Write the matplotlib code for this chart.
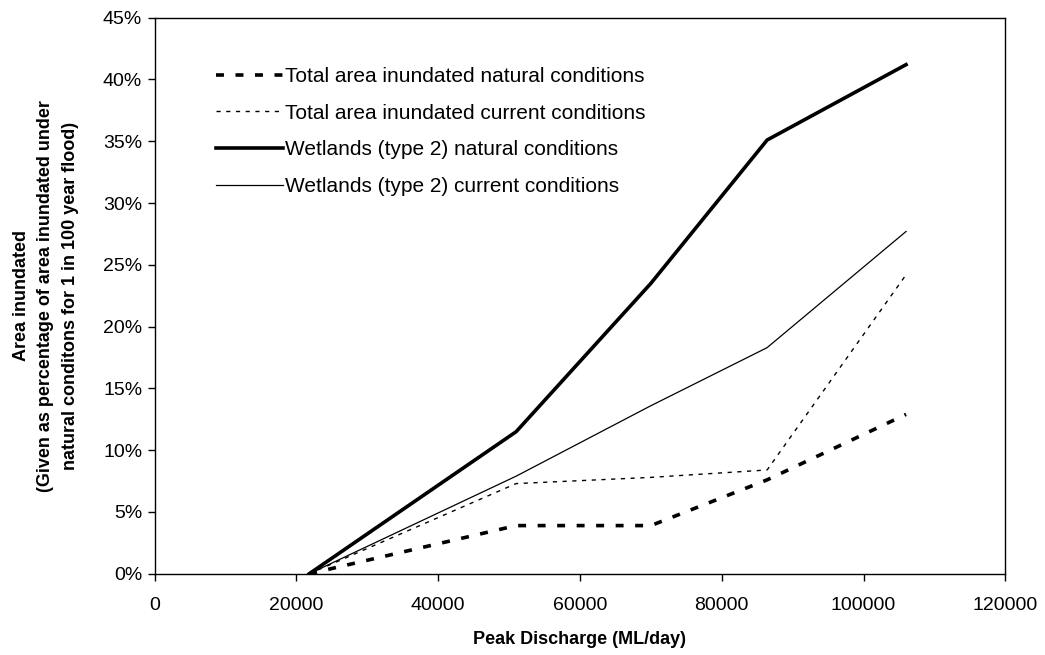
import matplotlib
matplotlib.use('Agg')
import matplotlib.pyplot as plt
from matplotlib.ticker import FuncFormatter

plt.rcParams['font.family'] = ['Liberation Sans', 'DejaVu Sans']

# peak discharge (ML/day)
discharge = [21800, 51000, 70000, 86400, 106000]

# area inundated (%)
total_natural = [0, 3.9, 3.9, 7.6, 12.9]
total_current = [0, 7.3, 7.8, 8.4, 24.2]
wet_natural = [0, 11.5, 23.5, 35.1, 41.2]
wet_current = [0, 7.9, 13.6, 18.3, 27.7]

labels = ['Total area inundated natural conditions',
          'Total area inundated current conditions',
          'Wetlands (type 2) natural conditions',
          'Wetlands (type 2) current conditions']

fig = plt.figure(figsize=(10.45, 6.55), dpi=100)
ax = fig.add_axes([0.148, 0.124, 0.814, 0.849])

ax.plot(discharge, total_natural, color='black', lw=2.6, linestyle=(0, (2.2, 3.2)),
        dash_capstyle='butt', label=labels[0])
ax.plot(discharge, total_current, color='black', lw=1.0, linestyle=(0, (3, 4)),
        label=labels[1])
ax.plot(discharge, wet_natural, color='black', lw=2.6, label=labels[2])
ax.plot(discharge, wet_current, color='black', lw=0.9, label=labels[3])

ax.set_xlim(0, 120000)
ax.set_ylim(0, 45)
ax.set_xticks(range(0, 120001, 20000))
ax.set_yticks(range(0, 46, 5))
ax.yaxis.set_major_formatter(FuncFormatter(lambda v, p: '%d%%' % v))
ax.tick_params(direction='out', length=5, width=1, labelsize=14, pad=4)
ax.tick_params(axis='x', pad=12)

for s in ax.spines.values():
    s.set_linewidth(1.0)

ax.set_xlabel('Peak Discharge (ML/day)', fontsize=13, fontweight='bold', labelpad=12)
ax.set_ylabel('Area inundated\n(Given as percentage of area inundated under\n'
              'natural conditons for 1 in 100 year flood)',
              fontsize=13, fontweight='bold', labelpad=17, linespacing=1.6)

ax.legend(loc='upper left', bbox_to_anchor=(0.05, 0.945), frameon=False,
          fontsize=15, handlelength=3.2, handletextpad=0.1, labelspacing=0.85)

fig.savefig('out.png', dpi=100)
